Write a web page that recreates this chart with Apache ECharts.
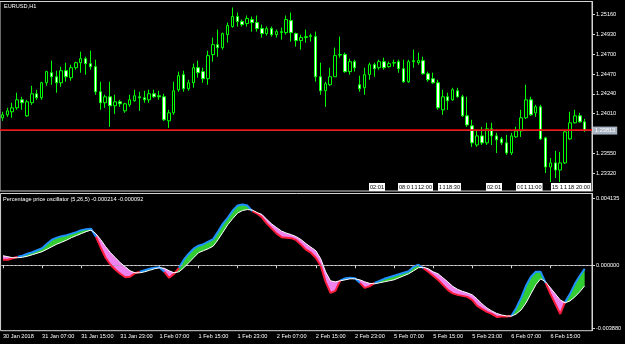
<!DOCTYPE html>
<html><head><meta charset="utf-8">
<script src="https://cdn.jsdelivr.net/npm/echarts@6/dist/echarts.min.js"></script>
<style>html,body{margin:0;padding:0;background:#000;}#c{width:625px;height:344px;}</style>
</head><body><div id="c"></div>
<script>
// ---- categories (hourly bars, broker time) ----
const sessions = [['30 Jan',23,23],['31 Jan',0,23],['1 Feb',0,23],['2 Feb',0,23],['5 Feb',0,23],['6 Feb',0,23]];
const firstTickLabel = '30 Jan 2018';
const symbolTitle = 'EURUSD,H1';
const oscTitle = 'Percentage price oscillator (5,26,5) -0.000214 -0.000092';

// ---- EURUSD H1 candles ----
const open = [1.23961,1.23996,1.24031,1.24077,1.24170,1.23984,1.24136,1.24240,1.24194,1.24368,
1.24485,1.24438,1.24368,1.24508,1.24427,1.24543,1.24601,1.24648,1.24590,1.24555,
1.24264,1.24136,1.24205,1.24101,1.24147,1.24042,1.24112,1.24159,1.24205,1.24194,
1.24170,1.24240,1.24217,1.24205,1.23926,1.24019,1.24287,1.24462,1.24299,1.24368,
1.24543,1.24497,1.24415,1.24695,1.24811,1.24776,1.24927,1.25021,1.25137,1.25079,
1.25056,1.25102,1.25067,1.24997,1.24939,1.24997,1.24927,1.24951,1.24951,1.25090,
1.24939,1.24858,1.24893,1.24904,1.24904,1.24438,1.24275,1.24345,1.24438,1.24690,
1.24695,1.24497,1.24613,1.24345,1.24310,1.24462,1.24578,1.24543,1.24613,1.24555,
1.24601,1.24613,1.24531,1.24380,1.24613,1.24601,1.24625,1.24473,1.24415,1.24368,
1.24054,1.24205,1.24170,1.24275,1.24205,1.23984,1.23868,1.23646,1.23751,1.23670,
1.23833,1.23751,1.23716,1.23670,1.23553,1.23740,1.23809,1.23961,1.24170,1.24019,
1.24089,1.23728,1.23390,1.23437,1.23355,1.23437,1.23716,1.23903,1.23984,1.23914];
const close = [1.23996,1.24042,1.24077,1.24170,1.24136,1.24147,1.24240,1.24194,1.24368,1.24497,
1.24438,1.24368,1.24508,1.24438,1.24543,1.24601,1.24648,1.24590,1.24555,1.24264,
1.24136,1.24205,1.24101,1.24147,1.24124,1.24124,1.24170,1.24217,1.24194,1.24170,
1.24240,1.24205,1.24205,1.23938,1.24019,1.24275,1.24450,1.24299,1.24368,1.24543,
1.24485,1.24415,1.24683,1.24811,1.24776,1.24939,1.25032,1.25137,1.25079,1.25044,
1.25114,1.25067,1.24997,1.24939,1.24997,1.24927,1.24962,1.24962,1.25102,1.24951,
1.24858,1.24893,1.24904,1.24916,1.24438,1.24275,1.24357,1.24438,1.24683,1.24695,
1.24497,1.24613,1.24543,1.24299,1.24462,1.24578,1.24531,1.24613,1.24543,1.24590,
1.24598,1.24531,1.24380,1.24613,1.24625,1.24625,1.24473,1.24403,1.24368,1.24077,
1.24205,1.24159,1.24287,1.24205,1.23984,1.23879,1.23670,1.23751,1.23670,1.23833,
1.23751,1.23705,1.23670,1.23553,1.23751,1.23809,1.23961,1.24170,1.23996,1.24089,
1.23716,1.23390,1.23437,1.23355,1.23437,1.23798,1.23903,1.23984,1.23914,1.23813];
const low = [1.23926,1.23972,1.23961,1.24054,1.24054,1.23972,1.24112,1.24170,1.24170,1.24333,
1.24345,1.24252,1.24322,1.24380,1.24392,1.24520,1.24485,1.24462,1.24520,1.24229,
1.24054,1.24077,1.23856,1.24007,1.24089,1.24019,1.24089,1.24147,1.24042,1.24136,
1.24136,1.24194,1.24170,1.23926,1.23844,1.23996,1.24264,1.24264,1.24275,1.24310,
1.24427,1.24368,1.24345,1.24613,1.24671,1.24753,1.24834,1.25009,1.25021,1.25021,
1.25021,1.24962,1.24962,1.24893,1.24916,1.24904,1.24893,1.24869,1.24927,1.24846,
1.24788,1.24753,1.24834,1.24846,1.24380,1.24229,1.24089,1.24333,1.24438,1.24660,
1.24485,1.24462,1.24497,1.24264,1.24229,1.24403,1.24438,1.24520,1.24520,1.24543,
1.24555,1.24485,1.24368,1.24368,1.24543,1.24578,1.24462,1.24380,1.24357,1.24054,
1.23996,1.24054,1.24159,1.24194,1.23972,1.23856,1.23623,1.23623,1.23646,1.23646,
1.23646,1.23553,1.23646,1.23530,1.23530,1.23728,1.23740,1.23949,1.23984,1.23972,
1.23705,1.23320,1.23215,1.23262,1.23215,1.23425,1.23705,1.23895,1.23903,1.23798];
const high = [1.24031,1.24077,1.24136,1.24252,1.24205,1.24170,1.24333,1.24287,1.24380,1.24508,
1.24625,1.24508,1.24555,1.24601,1.24578,1.24613,1.24729,1.24671,1.24741,1.24636,
1.24380,1.24229,1.24380,1.24229,1.24170,1.24136,1.24229,1.24287,1.24264,1.24275,
1.24287,1.24287,1.24275,1.24240,1.24054,1.24380,1.24497,1.24508,1.24403,1.24590,
1.24625,1.24543,1.24741,1.24893,1.24986,1.24951,1.25067,1.25242,1.25184,1.25102,
1.25149,1.25137,1.25149,1.25044,1.25021,1.25021,1.24986,1.25009,1.25149,1.25184,
1.24951,1.24927,1.24986,1.24939,1.24962,1.24601,1.24380,1.24543,1.24776,1.24904,
1.24718,1.24648,1.24636,1.24450,1.24543,1.24601,1.24601,1.24636,1.24660,1.24613,
1.24636,1.24636,1.24636,1.24636,1.24753,1.24718,1.24671,1.24497,1.24485,1.24403,
1.24287,1.24252,1.24310,1.24310,1.24229,1.24205,1.23938,1.23821,1.23856,1.23903,
1.23903,1.23786,1.23740,1.23763,1.23786,1.23856,1.24054,1.24345,1.24205,1.24112,
1.24112,1.23740,1.23495,1.23577,1.23565,1.23809,1.24031,1.24054,1.24019,1.23949];

// ---- Percentage price oscillator (5,26,5) ----
const ppo = [0.000341,0.000341,0.000434,0.000527,0.000589,0.000713,0.000806,0.00093,0.001054,0.001333,
0.001581,0.001705,0.001798,0.00186,0.001953,0.002046,0.00217,0.002232,0.002263,0.001767,
0.001085,0.000465,0.000031,-0.000279,-0.000527,-0.000744,-0.000713,-0.000496,-0.000403,-0.00031,
-0.000217,-0.000155,-0.000124,-0.000403,-0.000775,-0.000527,-0.000155,0.000341,0.000713,0.001023,
0.001209,0.001302,0.001457,0.001612,0.002077,0.002573,0.002945,0.003379,0.003689,0.003751,
0.003689,0.003348,0.003193,0.002945,0.002573,0.002263,0.001953,0.001736,0.001705,0.001674,
0.00155,0.001271,0.000961,0.000775,0.000465,-0.000031,-0.001023,-0.001705,-0.001581,-0.00093,
-0.000806,-0.000775,-0.000806,-0.001085,-0.001395,-0.001302,-0.001085,-0.000961,-0.000837,-0.000744,
-0.000651,-0.000558,-0.000465,-0.000372,-0.000093,0.000031,-0.000186,-0.000403,-0.000651,-0.000899,
-0.001209,-0.001519,-0.001736,-0.001829,-0.001891,-0.001953,-0.002139,-0.002511,-0.002697,-0.002883,
-0.003007,-0.003193,-0.003162,-0.003162,-0.003131,-0.002635,-0.002015,-0.001271,-0.000713,-0.000403,
-0.000403,-0.001085,-0.001767,-0.002387,-0.003007,-0.002263,-0.001767,-0.001147,-0.000651,-0.000214];
const signal = [0.000589,0.000527,0.000465,0.000465,0.000496,0.000558,0.000651,0.000744,0.000837,0.000992,
0.001147,0.001302,0.001426,0.00155,0.001705,0.001829,0.001953,0.002077,0.00217,0.001953,
0.001581,0.001147,0.000775,0.000465,0.000155,-0.000093,-0.000341,-0.000465,-0.000465,-0.000403,
-0.00031,-0.000217,-0.000155,-0.000186,-0.000341,-0.000465,-0.000403,-0.000155,0.000155,0.000465,
0.000775,0.000899,0.001023,0.001178,0.001581,0.002046,0.002511,0.002883,0.003224,0.003379,
0.003441,0.00341,0.003255,0.003131,0.002821,0.002542,0.002325,0.002108,0.001984,0.001891,
0.001767,0.001581,0.001333,0.001116,0.000899,0.000403,-0.000403,-0.000961,-0.001023,-0.000961,
-0.000899,-0.000837,-0.000837,-0.000899,-0.001023,-0.001116,-0.001147,-0.001085,-0.001023,-0.000961,
-0.000899,-0.000775,-0.000651,-0.000527,-0.000341,-0.000155,-0.000124,-0.000217,-0.000403,-0.000527,
-0.000775,-0.001023,-0.001302,-0.001488,-0.001612,-0.001705,-0.001829,-0.002077,-0.002387,-0.002635,
-0.002821,-0.002976,-0.003069,-0.003131,-0.003143,-0.003007,-0.002759,-0.002325,-0.001767,-0.001209,
-0.000837,-0.001023,-0.001395,-0.001767,-0.002139,-0.002325,-0.002201,-0.001953,-0.001643,-0.001271];

// ---- axis ticks / levels ----
const priceTicks  = [1.2332,1.2355,1.2378,1.2401,1.2424,1.2447,1.2470,1.2493,1.2516];
const priceLabels = [1.2332,1.2355,1.2401,1.2424,1.2447,1.2470,1.2493,1.2516];
const oscTicks = [0.004135, 0, -0.00388];
const bidPrice = 1.23813;
const redLevel = 1.23826;
// vertical-line time labels (left edge px, text)
const timeMarks = [[369,'02:01'],[398,'08:00'],[410,'10:00'],[413.5,'11:00'],[417,'12:00'],[438,'16:00'],[441.5,'17:00'],[445,'18:30'],
  [486,'02:01'],[516,'08:00'],[519.5,'09:00'],[523,'10:00'],[527,'11:00'],[551,'15:00'],[559,'16:00'],[563,'17:00'],[567,'18:00'],[575,'20:00']];

// ---- build ----
const categories = [];
sessions.forEach(([d,a,b]) => { for (let h=a; h<=b; h++) categories.push(d+' '+String(h).padStart(2,'0')+':00'); });
const candles = open.map((o,i)=>[o, close[i], low[i], high[i]]);
const diff = ppo.map((v,i)=>v-signal[i]);
const up = diff.map(d=>Math.max(d,0));
const dn = diff.map(d=>Math.min(d,0));
const blueLine = ppo.map((v,i)=> (diff[i]>=0 || (i>0 && diff[i-1]>=0)) ? v : null);
const redLine  = ppo.map((v,i)=> (diff[i]<0  || (i>0 && diff[i-1]<0))  ? v : null);
const emptyRow = categories.map(()=>null);

const FONT = '"Liberation Sans", Arial, sans-serif';
const FS = 5.6;
const FG = '#d4d4d4';
const tickEvery = (idx) => idx % 8 === 0 && idx < 120;

const chart = echarts.init(document.getElementById('c'));
chart.setOption({
  backgroundColor: '#000',
  animation: false,
  title: [
    {text: symbolTitle, left: 4, top: 3, padding: 0, textStyle: {color:'#fff', fontSize: FS, fontWeight:'normal', fontFamily: FONT}},
    {text: oscTitle, left: 3, top: 196.5, padding: 0, textStyle: {color:'#fff', fontSize: FS, fontWeight:'normal', fontFamily: FONT}}
  ],
  grid: [
    {left: 0, right: 33, top: 1.5, height: 189.5, show: true, borderColor: FG, borderWidth: 1},
    {left: 0, right: 33, top: 193.5, bottom: 13.3, show: true, borderColor: FG, borderWidth: 1}
  ],
  xAxis: [
    {type:'category', gridIndex:0, data: categories, boundaryGap: true, show: false},
    {type:'category', gridIndex:1, data: categories, boundaryGap: true,
      axisLine: {show:true, lineStyle:{color: FG}},
      axisTick: {show:true, alignWithLabel:true, interval: tickEvery, length: 3, lineStyle:{color: FG}},
      axisLabel: {show:true, interval: tickEvery, align:'left', margin: 3,
        formatter: (v, i) => i === 0 ? firstTickLabel : v,
        color:'#fff', fontSize: FS, fontFamily: FONT},
      splitLine: {show:false}}
  ],
  yAxis: [
    {type:'value', gridIndex:0, position:'right', min: 1.23111, max: 1.25312,
      splitLine:{show:false},
      axisLine:{show:true, lineStyle:{color: FG}},
      axisTick:{show:true, length:3, customValues: priceTicks, lineStyle:{color: FG}},
      axisLabel:{show:true, customValues: priceLabels, margin: 4, formatter: v => v.toFixed(5), color:'#fff', fontSize: FS, fontFamily: FONT}},
    {type:'value', gridIndex:1, position:'right', min: -0.004042, max: 0.004433,
      splitLine:{show:false},
      axisLine:{show:true, lineStyle:{color: FG}},
      axisTick:{show:true, length:3, customValues: oscTicks, lineStyle:{color: FG}},
      axisLabel:{show:true, customValues: oscTicks, margin: 4, formatter: v => v.toFixed(6), color:'#fff', fontSize: FS, fontFamily: FONT}}
  ],
  series: [
    {type:'candlestick', xAxisIndex:0, yAxisIndex:0, data: candles, barWidth: 3, z: 2,
      itemStyle:{color:'#000', color0:'#fff', borderColor:'#00ff00', borderColor0:'#00ff00', borderWidth:1}},
    {name:'bid', type:'line', xAxisIndex:0, yAxisIndex:0, data: emptyRow, symbol:'none', silent:true, z: 6,
      lineStyle:{opacity:0},
      markLine:{silent:true, symbol:['none','none'], animation:false, precision: 6, z: 6,
        data:[
          {yAxis: bidPrice, lineStyle:{color:'#8593a6', width:1, type:'solid'},
            label:{show:true, position:'end', distance: 1, formatter: bidPrice.toFixed(5),
              backgroundColor:'#a9b4c3', color:'#fff', padding:[1,2,1,2], fontSize: FS, fontFamily: FONT}}
        ]}},
    {name:'hline', type:'line', xAxisIndex:0, yAxisIndex:0, data: emptyRow, symbol:'none', silent:true, z: 8,
      lineStyle:{opacity:0},
      markLine:{silent:true, symbol:['none','none'], animation:false, precision: 6, z: 8,
        data:[{yAxis: redLevel, lineStyle:{color:'#ff0000', width:1.6, type:'solid'}, label:{show:false}}]}},
    {name:'base', type:'line', xAxisIndex:1, yAxisIndex:1, data: signal, stack:'osc', stackStrategy:'all',
      symbol:'none', lineStyle:{width:0, opacity:0}, silent:true, z: 2},
    {name:'up', type:'line', xAxisIndex:1, yAxisIndex:1, data: up, stack:'osc', stackStrategy:'all',
      symbol:'none', lineStyle:{width:0, opacity:0}, areaStyle:{color:'#32cd32', opacity:1}, silent:true, z: 2},
    {name:'down', type:'line', xAxisIndex:1, yAxisIndex:1, data: dn, stack:'osc', stackStrategy:'all',
      symbol:'none', lineStyle:{width:0, opacity:0}, areaStyle:{color:'#ee82ee', opacity:1}, silent:true, z: 2},
    {name:'ppoDown', type:'line', xAxisIndex:1, yAxisIndex:1, data: redLine, symbol:'none',
      lineStyle:{color:'#ff1f3d', width:2}, silent:true, z: 3},
    {name:'ppoUp', type:'line', xAxisIndex:1, yAxisIndex:1, data: blueLine, symbol:'none',
      lineStyle:{color:'#1e90ff', width:2}, silent:true, z: 4},
    {name:'signal', type:'line', xAxisIndex:1, yAxisIndex:1, data: signal, symbol:'none',
      lineStyle:{color:'#ffffff', width:1}, silent:true, z: 5,
      markLine:{silent:true, symbol:['none','none'], animation:false, label:{show:false},
        lineStyle:{color:'#9a9a9a', width:1, type:[2,2]}, data:[{yAxis:0}]}}
  ],
  graphic: timeMarks.map(([x, t]) => ({
    type:'text', x: x, y: 183, z: 100,
    style:{text: t, fill:'#000', backgroundColor:'#fff', padding:[1,1,1,1], font: FS + 'px ' + FONT}
  }))
});
</script>
</body></html>
